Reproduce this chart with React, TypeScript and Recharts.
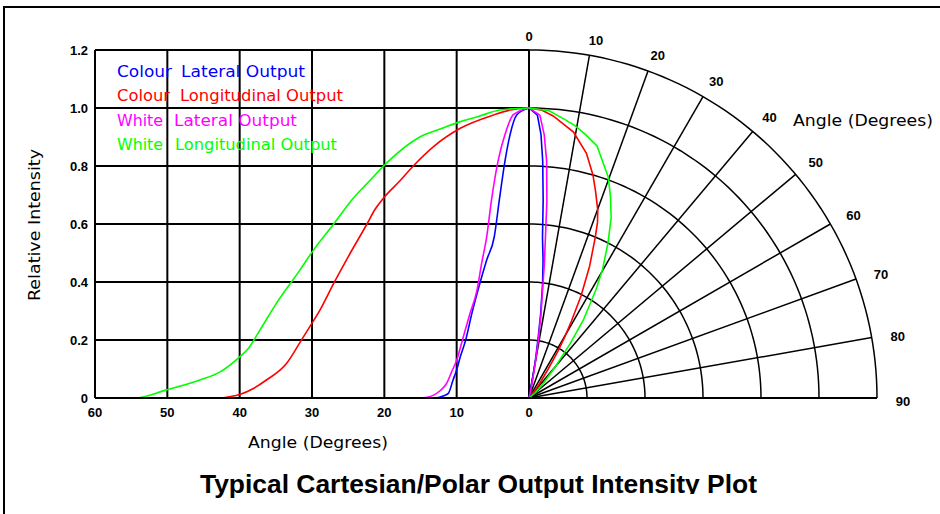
import React from 'react';
import { ComposedChart, Line, XAxis, YAxis, ReferenceLine, ReferenceDot } from 'recharts';

// ---- Data (angle in degrees, relative intensity) ----
const colourLateralAngles = [0, 1.7, 2.6, 3.3, 4.1, 4.8, 5.85, 6.8, 7.9, 8.75, 9.5, 10.0, 10.5, 11.15, 11.85, 12.5, 13.3];
const colourLateralValues = [1.0, 0.976, 0.91, 0.82, 0.683, 0.556, 0.476, 0.395, 0.292, 0.2, 0.142, 0.097, 0.062, 0.016, 0.007, 0.002, 0];

const colourLongAngles = [0, 2.6, 4.9, 9.5, 13.2, 16, 17.8, 20.1, 21.3, 22.4, 24.7, 27, 28.9, 30.3, 31.7, 33.5, 36.3, 38.1, 40, 41.5, 42.5, 60];
const colourLongValues = [1.0, 0.993, 0.976, 0.93, 0.867, 0.8, 0.75, 0.69, 0.65, 0.6, 0.5, 0.395, 0.303, 0.246, 0.19, 0.12, 0.062, 0.033, 0.012, 0.004, 0, 0];

const whiteLateralAngles = [0, 2.2, 3.3, 4.25, 5.2, 5.85, 6.55, 7.2, 8.15, 9.2, 10.0, 10.7, 11.4, 12.3, 13.2, 14.8];
const whiteLateralValues = [1.0, 0.976, 0.91, 0.82, 0.68, 0.556, 0.464, 0.37, 0.292, 0.2, 0.13, 0.09, 0.05, 0.025, 0.01, 0];

const whiteLongAngles = [0, 4, 7.1, 9.5, 12, 15.1, 19.7, 22, 24.5, 27, 29.8, 31.7, 34.9, 37.2, 38.8, 40, 42.7, 45.5, 50.1, 54.5, 60];
const whiteLongValues = [1.0, 0.993, 0.97, 0.953, 0.93, 0.9, 0.81, 0.75, 0.683, 0.6, 0.51, 0.44, 0.327, 0.234, 0.171, 0.142, 0.09, 0.062, 0.028, 0, 0];

// ---- Axis ticks ----
const angleTicks = [-60, -50, -40, -30, -20, -10, 0];
const intensityTicks = [0, 0.2, 0.4, 0.6, 0.8, 1.0, 1.2];
const polarRadii = [0.2, 0.4, 0.6, 0.8, 1.0, 1.2];
const polarSpokes = [10, 20, 30, 40, 50, 60, 70, 80, 90];
const polarLabelAngles = [0, 10, 20, 30, 40, 50, 60, 70, 80, 90];

const COLORS = { blue: '#0000ff', red: '#ff0000', magenta: '#ff00ff', green: '#00ff00' };

// ---- Layout ----
const W = 940;
const H = 514;
const PLOT_LEFT = 95;
const ORIGIN_X = 529;
const PLOT_RIGHT = 877;
const PLOT_TOP = 50;
const PLOT_BOTTOM = 398;
const CART_W = ORIGIN_X - PLOT_LEFT; // 434
const POLAR_W = PLOT_RIGHT - ORIGIN_X; // 348
const R_MAX = 1.2;
const cartDomain: [number, number] = [-60, (60 * POLAR_W) / CART_W];
const polarDomain: [number, number] = [(-R_MAX * CART_W) / POLAR_W, R_MAX];
const PX_PER_UNIT = POLAR_W / R_MAX;

const rad = (d: number) => (d * Math.PI) / 180;

const toCart = (angles: number[], values: number[]) =>
  angles.map((a, i) => ({ x: -a, y: values[i] })).sort((p, q) => p.x - q.x);
const toPolar = (angles: number[], values: number[]) =>
  angles.map((a, i) => ({ x: values[i] * Math.sin(rad(a)), y: values[i] * Math.cos(rad(a)) }));

const arcPoints = (r: number) => {
  const pts: { x: number; y: number }[] = [];
  for (let a = 0; a <= 90; a += 1.5) pts.push({ x: r * Math.sin(rad(a)), y: r * Math.cos(rad(a)) });
  return pts;
};

const tickStyle = { fill: '#000', fontSize: 13, fontWeight: 700, fontFamily: '"Liberation Sans", Arial, sans-serif' };
const textFont = '"DejaVu Sans", "Liberation Sans", sans-serif';

const series = [
  { key: 'cl', angles: colourLateralAngles, values: colourLateralValues, color: COLORS.blue },
  { key: 'clo', angles: colourLongAngles, values: colourLongValues, color: COLORS.red },
  { key: 'wl', angles: whiteLateralAngles, values: whiteLateralValues, color: COLORS.magenta },
  { key: 'wlo', angles: whiteLongAngles, values: whiteLongValues, color: COLORS.green },
];

const legendRows = [
  { a: 'Colour', b: 'Lateral Output', color: COLORS.blue, y: 72, aLen: 55, bx: 181, bLen: 124 },
  { a: 'Colour', b: 'Longitudinal Output', color: COLORS.red, y: 96, aLen: 53, bx: 180, bLen: 163 },
  { a: 'White', b: 'Lateral Output', color: COLORS.magenta, y: 121, aLen: 46, bx: 174, bLen: 123 },
  { a: 'White', b: 'Longitudinal Output', color: COLORS.green, y: 145, aLen: 46, bx: 175, bLen: 162 },
];

const fmtY = (v: number) => (v === 0 ? '0' : v.toFixed(1));

export default function App() {
  return (
    <div style={{ position: 'absolute', left: 0, top: 0, width: W, height: H, background: '#fff', overflow: 'hidden' }}>
      <ComposedChart
        width={W}
        height={H}
        margin={{ top: PLOT_TOP, right: W - PLOT_RIGHT, bottom: H - PLOT_BOTTOM - 20, left: PLOT_LEFT - 30 }}
      >
        <XAxis
          xAxisId="cart"
          type="number"
          dataKey="x"
          domain={cartDomain}
          ticks={angleTicks}
          tickFormatter={(v: number) => String(Math.abs(v))}
          tick={tickStyle}
          tickLine={false}
          tickMargin={4}
          height={20}
          axisLine={{ stroke: '#000', strokeWidth: 2 }}
          interval={0}
        />
        <XAxis xAxisId="polar" type="number" dataKey="x" domain={polarDomain} hide />
        <YAxis
          type="number"
          dataKey="y"
          domain={[0, 1.2]}
          ticks={intensityTicks}
          tickFormatter={fmtY}
          tick={tickStyle}
          tickLine={false}
          tickMargin={1}
          width={30}
          axisLine={{ stroke: '#000', strokeWidth: 2 }}
          interval={0}
        />

        {/* Cartesian grid */}
        {angleTicks.map((t) => (
          <ReferenceLine
            key={'v' + t}
            xAxisId="cart"
            segment={[{ x: t, y: 0 }, { x: t, y: 1.2 }]}
            stroke="#000"
            strokeWidth={2}
            ifOverflow="visible"
          />
        ))}
        {intensityTicks.filter((t) => t > 0).map((t) => (
          <ReferenceLine
            key={'h' + t}
            xAxisId="cart"
            segment={[{ x: -60, y: t }, { x: 0, y: t }]}
            stroke="#000"
            strokeWidth={2}
            ifOverflow="visible"
          />
        ))}

        {/* Polar grid: spokes */}
        {polarSpokes.map((a) => (
          <ReferenceLine
            key={'s' + a}
            xAxisId="polar"
            segment={[{ x: 0, y: 0 }, { x: R_MAX * Math.sin(rad(a)), y: R_MAX * Math.cos(rad(a)) }]}
            stroke="#000"
            strokeWidth={1.5}
            ifOverflow="visible"
          />
        ))}
        {/* Polar grid: arcs */}
        {polarRadii.map((r) => (
          <Line
            key={'arc' + r}
            xAxisId="polar"
            data={arcPoints(r)}
            dataKey="y"
            type="linear"
            stroke="#000"
            strokeWidth={1.5}
            dot={false}
            activeDot={false}
            isAnimationActive={false}
            legendType="none"
          />
        ))}

        {/* Cartesian curves */}
        {series.map((s) => (
          <Line
            key={'c' + s.key}
            xAxisId="cart"
            data={toCart(s.angles, s.values)}
            dataKey="y"
            type="monotone"
            stroke={s.color}
            strokeWidth={1.6}
            dot={false}
            activeDot={false}
            isAnimationActive={false}
          />
        ))}
        {/* Polar curves */}
        {series.map((s) => (
          <Line
            key={'p' + s.key}
            xAxisId="polar"
            data={toPolar(s.angles, s.values)}
            dataKey="y"
            type="linear"
            stroke={s.color}
            strokeWidth={1.6}
            dot={false}
            activeDot={false}
            isAnimationActive={false}
          />
        ))}

        {/* Polar angle labels */}
        {polarLabelAngles.map((a) => {
          const offPx = 14 + 12 * Math.sin(rad(a));
          const rr = R_MAX + offPx / PX_PER_UNIT;
          const aa = a === 0 ? 0 : a + 0.6;
          return (
            <ReferenceDot
              key={'l' + a}
              xAxisId="polar"
              x={rr * Math.sin(rad(aa))}
              y={rr * Math.cos(rad(aa))}
              r={1}
              ifOverflow="visible"
              shape={(p: any) => (
                <text
                  x={p.cx}
                  y={p.cy}
                  textAnchor="middle"
                  dominantBaseline="central"
                  style={tickStyle as any}
                  fill="#000"
                >
                  {String(a)}
                </text>
              )}
            />
          );
        })}
      </ComposedChart>

      <svg
        width={W}
        height={H}
        style={{ position: 'absolute', left: 0, top: 0, pointerEvents: 'none' }}
      >
        {/* frame */}
        <line x1={4} y1={7} x2={W} y2={7} stroke="#000" strokeWidth={2} />
        <line x1={4} y1={6} x2={4} y2={H} stroke="#000" strokeWidth={2} />

        {legendRows.map((r) => (
          <g key={r.a + r.b} fill={r.color} fontFamily={textFont} fontSize={15}>
            <text x={117} y={r.y} dominantBaseline="central" textLength={r.aLen} lengthAdjust="spacingAndGlyphs">
              {r.a}
            </text>
            <text x={r.bx} y={r.y} dominantBaseline="central" textLength={r.bLen} lengthAdjust="spacingAndGlyphs">
              {r.b}
            </text>
          </g>
        ))}

        <text
          x={0}
          y={0}
          transform="translate(35,225) rotate(-90)"
          textAnchor="middle"
          dominantBaseline="central"
          fontFamily={textFont}
          fontSize={15}
          fill="#000"
          textLength={152}
          lengthAdjust="spacingAndGlyphs"
        >
          Relative Intensity
        </text>
        <text
          x={248}
          y={443}
          dominantBaseline="central"
          fontFamily={textFont}
          fontSize={15}
          fill="#000"
          textLength={140}
          lengthAdjust="spacingAndGlyphs"
        >
          Angle (Degrees)
        </text>
        <text
          x={793}
          y={121}
          dominantBaseline="central"
          fontFamily={textFont}
          fontSize={15}
          fill="#000"
          textLength={140}
          lengthAdjust="spacingAndGlyphs"
        >
          Angle (Degrees)
        </text>
        <text
          x={200}
          y={493}
          fontFamily='"Liberation Sans", Arial, sans-serif'
          fontWeight={700}
          fontSize={26}
          fill="#000"
          textLength={557}
          lengthAdjust="spacingAndGlyphs"
        >
          Typical Cartesian/Polar Output Intensity Plot
        </text>
        <rect x={593} y={494} width={200} height={20} fill="#fff" />
      </svg>
    </div>
  );
}
